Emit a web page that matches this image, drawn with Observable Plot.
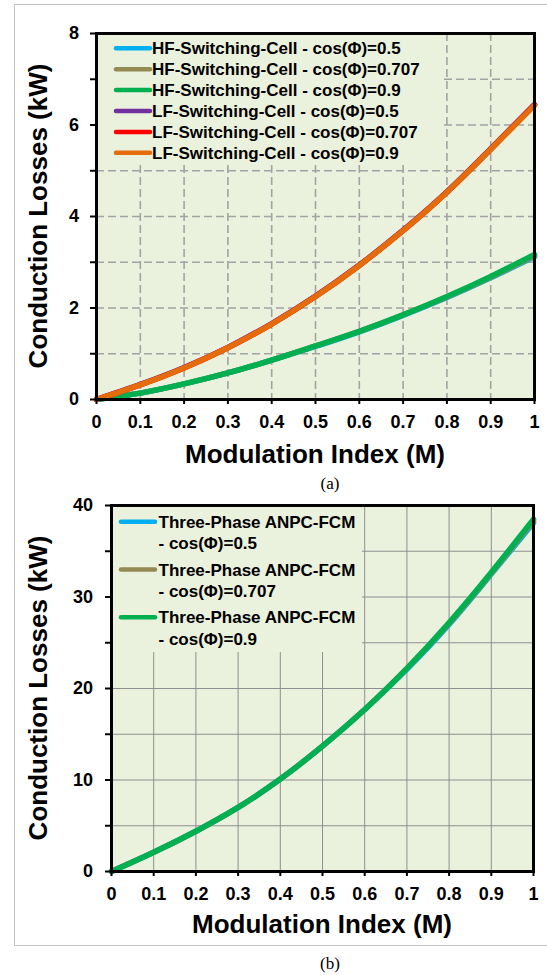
<!DOCTYPE html>
<html>
<head>
<meta charset="utf-8">
<script src="https://cdn.jsdelivr.net/npm/d3@7"></script>
<script src="https://cdn.jsdelivr.net/npm/@observablehq/plot@0.6"></script>
<style>
  html, body { margin: 0; padding: 0; background: #fff; overflow: hidden; }
  #root { position: relative; width: 547px; height: 975px; overflow: hidden; }
  #frameBox { position: absolute; left: 14px; top: 4px; width: 560px; height: 942px; border: 1px solid #c3c3c3; box-sizing: border-box; }
  .chart { position: absolute; left: 0; }
  .cap { position: absolute; left: 0; width: 660px; text-align: center; font-family: "Times New Roman", "Liberation Serif", serif; font-size: 17px; line-height: 17px; color: #000; }
</style>
</head>
<body>
<div id="root">
  <div id="frameBox"></div>
  <div id="chartA" class="chart" style="top:0px"></div>
  <div id="chartB" class="chart" style="top:470px"></div>
  <div class="cap" style="top:475px">(a)</div>
  <div class="cap" style="top:955px">(b)</div>
</div>
<script>
// ---------- DATA ----------
const M = [0, 0.1, 0.2, 0.3, 0.4, 0.5, 0.6, 0.7, 0.8, 0.9, 1.0];

// Panel (a): conduction losses (kW) per switching cell
const seriesA = [
  "HF-Switching-Cell - cos(Φ)=0.5",
  "HF-Switching-Cell - cos(Φ)=0.707",
  "HF-Switching-Cell - cos(Φ)=0.9",
  "LF-Switching-Cell - cos(Φ)=0.5",
  "LF-Switching-Cell - cos(Φ)=0.707",
  "LF-Switching-Cell - cos(Φ)=0.9"
];
const hf05   = [0, 0.14, 0.34, 0.58, 0.86, 1.16, 1.48, 1.84, 2.23, 2.66, 3.12];
const hf0707 = [0, 0.14, 0.34, 0.58, 0.86, 1.17, 1.49, 1.85, 2.24, 2.67, 3.14];
const hf09   = [0, 0.14, 0.34, 0.58, 0.86, 1.17, 1.49, 1.85, 2.25, 2.69, 3.17];
const lf05   = [0, 0.33, 0.70, 1.14, 1.66, 2.26, 2.94, 3.70, 4.54, 5.48, 6.45];
const lf0707 = [0, 0.32, 0.69, 1.13, 1.65, 2.25, 2.93, 3.69, 4.53, 5.47, 6.44];
const lf09   = [0, 0.32, 0.69, 1.13, 1.65, 2.25, 2.93, 3.69, 4.53, 5.47, 6.43];
const colorsA = ["#00b0f0", "#948a54", "#00b050", "#7030a0", "#ff0000", "#e46c0a"];

// Panel (b): three-phase ANPC-FCM conduction losses (kW)
const seriesB = [
  ["Three-Phase ANPC-FCM", "- cos(Φ)=0.5"],
  ["Three-Phase ANPC-FCM", "- cos(Φ)=0.707"],
  ["Three-Phase ANPC-FCM", "- cos(Φ)=0.9"]
];
const anpc05   = [0, 2.1, 4.4, 7.0, 10.1, 13.7, 17.7, 22.1, 27.0, 32.5, 38.1];
const anpc0707 = [0, 2.1, 4.4, 7.0, 10.1, 13.7, 17.7, 22.2, 27.1, 32.6, 38.3];
const anpc09   = [0, 2.1, 4.4, 7.0, 10.1, 13.7, 17.7, 22.2, 27.2, 32.7, 38.5];
const colorsB = ["#00b0f0", "#948a54", "#00b050"];

// Ticks / labels
const xTicks = [0, 0.1, 0.2, 0.3, 0.4, 0.5, 0.6, 0.7, 0.8, 0.9, 1];
const yTicksA = [0, 1, 2, 3, 4, 5, 6, 7, 8];
const yLabelsA = [0, 2, 4, 6, 8];
const yTicksB = [0, 5, 10, 15, 20, 25, 30, 35, 40];
const yLabelsB = [0, 10, 20, 30, 40];
const xTitle = "Modulation Index (M)";
const yTitle = "Conduction Losses (kW)";

// ---------- STYLE ----------
const FONT = "Arial, 'Liberation Sans', sans-serif";
const BG = "#eaf1dd";
const fmtX = d => d === 0 ? "0" : d === 1 ? "1" : String(d);

function toRows(vals) { return M.map((m, i) => ({M: m, v: vals[i]})); }

function buildChart(opts) {
  const lines = opts.values.map((vals, i) =>
    Plot.line(toRows(vals), {x: "M", y: "v", stroke: opts.colors[i], strokeWidth: 5.5, curve: "natural"})
  );
  const gridStyle = opts.dashed
    ? {stroke: "#a3a3a3", strokeWidth: 1.6, strokeDasharray: "8,4"}
    : {stroke: "#8f8f8f", strokeWidth: 1};
  const yGrid = opts.yTicks.filter(d => d > opts.yDomain[0] && d < opts.yDomain[1]);
  const xGrid = xTicks.filter(d => d > 0 && d < 1);
  const chart = Plot.plot({
    width: 547,
    height: opts.height,
    marginLeft: opts.ml, marginRight: opts.mr, marginTop: opts.mt, marginBottom: opts.mb,
    x: {domain: [0, 1]},
    y: {domain: opts.yDomain},
    style: {fontFamily: FONT, fontWeight: "bold", fontSize: "18px", color: "#000", background: "none", overflow: "visible"},
    marks: [
      Plot.frame({fill: BG, stroke: null}),
      Plot.ruleX(xGrid, {x: d => d, ...gridStyle}),
      Plot.ruleY(yGrid, {y: d => d, ...gridStyle}),
      ...lines,
      Plot.axisX({ticks: xTicks, tickFormat: fmtX, tickSize: 5, tickPadding: 11, strokeWidth: 2, label: null, fontSize: 18, fontWeight: "bold"}),
      Plot.axisY({ticks: opts.yTicks, tickFormat: d => opts.yLabels.includes(d) ? String(d) : "", tickSize: 6, tickPadding: opts.yPad, strokeWidth: 2, label: null, fontSize: 18, fontWeight: "bold"}),
      Plot.frame({stroke: "#000", strokeWidth: 3})
    ]
  });
  const svg = d3.select(chart);
  const x = chart.scale("x"), y = chart.scale("y");
  const x0 = x.range[0], x1 = x.range[1];
  const yb = y.range[0], yt = y.range[1];
  // axis titles
  svg.append("text")
    .attr("x", (x0 + x1) / 2).attr("y", opts.xTitleBaseline)
    .attr("text-anchor", "middle")
    .attr("font-family", FONT).attr("font-weight", "bold").attr("font-size", 26)
    .attr("fill", "#000").text(xTitle);
  svg.append("text")
    .attr("transform", `translate(47,${(yb + yt) / 2}) rotate(-90)`)
    .attr("text-anchor", "middle")
    .attr("font-family", FONT).attr("font-weight", "bold").attr("font-size", 26)
    .attr("fill", "#000").text(yTitle);
  // legend, inserted beneath the black frame
  const lastMarkG = Array.from(chart.children).filter(n => ["g", "rect"].includes(n.tagName.toLowerCase())).pop();
  const leg = svg.insert("g", () => lastMarkG).attr("text-anchor", "start");
  opts.legend(leg, x0, yt);
  return chart;
}

// ---------- PANEL (a) ----------
const chartA = buildChart({
  height: 470, ml: 96, mr: 13, mt: 33, mb: 71, yPad: 11.5,
  yDomain: [0, 8], yTicks: yTicksA, yLabels: yLabelsA,
  values: [hf05, hf0707, hf09, lf05, lf0707, lf09], colors: colorsA,
  dashed: true, xTitleBaseline: 463,
  legend: (g, x0, yt) => {
    g.append("rect").attr("x", x0 + 1).attr("y", yt + 1).attr("width", 344).attr("height", 128).attr("fill", BG);
    seriesA.forEach((s, i) => {
      const cy = yt + 15.3 + i * 20.9;
      g.append("line").attr("x1", x0 + 20).attr("x2", x0 + 54).attr("y1", cy).attr("y2", cy)
        .attr("stroke", colorsA[i]).attr("stroke-width", 4.5).attr("stroke-linecap", "round");
      g.append("text").attr("x", x0 + 56).attr("y", cy).attr("dy", "0.36em").attr("text-anchor", "start")
        .attr("font-family", FONT).attr("font-weight", "bold").attr("font-size", 17).attr("fill", "#000").text(s);
    });
  }
});
document.getElementById("chartA").appendChild(chartA);

// ---------- PANEL (b) ----------
const chartB = buildChart({
  height: 475, ml: 111, mr: 14, mt: 35, mb: 74, yPad: 12.5,
  yDomain: [0, 40], yTicks: yTicksB, yLabels: yLabelsB,
  values: [anpc05, anpc0707, anpc09], colors: colorsB,
  dashed: false, xTitleBaseline: 463,
  legend: (g, x0, yt) => {
    g.append("rect").attr("x", x0 + 1).attr("y", yt + 1).attr("width", 250).attr("height", 146).attr("fill", BG);
    seriesB.forEach((s, i) => {
      const cy = yt + 16.7 + i * 47.8;
      g.append("line").attr("x1", x0 + 10).attr("x2", x0 + 44).attr("y1", cy).attr("y2", cy)
        .attr("stroke", colorsB[i]).attr("stroke-width", 4.5).attr("stroke-linecap", "round");
      g.append("text").attr("x", x0 + 47.5).attr("y", cy).attr("dy", "0.36em").attr("text-anchor", "start")
        .attr("font-family", FONT).attr("font-weight", "bold").attr("font-size", 17).attr("fill", "#000").text(s[0]);
      g.append("text").attr("x", x0 + 47.5).attr("y", cy + 21.6).attr("dy", "0.36em").attr("text-anchor", "start")
        .attr("font-family", FONT).attr("font-weight", "bold").attr("font-size", 17).attr("fill", "#000").text(s[1]);
    });
  }
});
document.getElementById("chartB").appendChild(chartB);
</script>
</body>
</html>
